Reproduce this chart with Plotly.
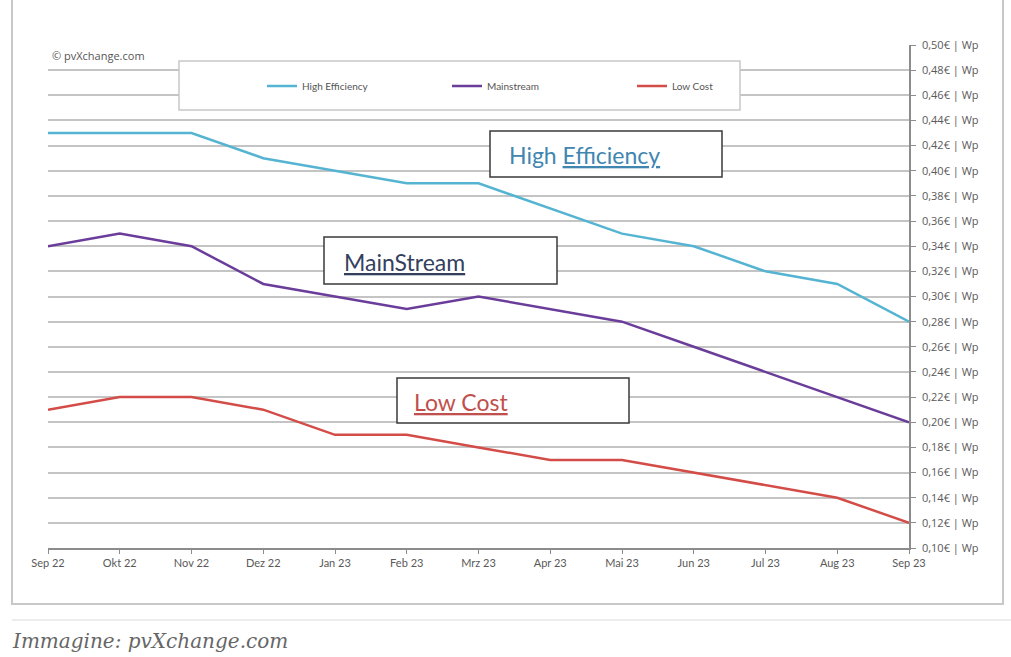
import plotly.graph_objects as go

months = ["Sep 22", "Okt 22", "Nov 22", "Dez 22", "Jan 23", "Feb 23", "Mrz 23",
          "Apr 23", "Mai 23", "Jun 23", "Jul 23", "Aug 23", "Sep 23"]
high_efficiency = [0.43, 0.43, 0.43, 0.41, 0.40, 0.39, 0.39, 0.37, 0.35, 0.34, 0.32, 0.31, 0.28]
mainstream = [0.34, 0.35, 0.34, 0.31, 0.30, 0.29, 0.30, 0.29, 0.28, 0.26, 0.24, 0.22, 0.20]
low_cost = [0.21, 0.22, 0.22, 0.21, 0.19, 0.19, 0.18, 0.17, 0.17, 0.16, 0.15, 0.14, 0.12]
y_ticks = [0.10, 0.12, 0.14, 0.16, 0.18, 0.20, 0.22, 0.24, 0.26, 0.28, 0.30,
           0.32, 0.34, 0.36, 0.38, 0.40, 0.42, 0.44, 0.46, 0.48, 0.50]
y_tick_text = [f"{v:.2f}".replace(".", ",") + "€ | Wp" for v in y_ticks]

W, H = 1011, 657
L, R, T, B = 48, 909, 45, 548

def px(x):
    return (x - L) / (R - L)

def py(y):
    return (B - y) / (B - T)

x_idx = list(range(len(months)))

fig = go.Figure()
series = [
    ("High Efficiency", high_efficiency, "#56b4d3"),
    ("Mainstream", mainstream, "#6b3d9a"),
    ("Low Cost", low_cost, "#d34c47"),
]
for name, vals, col in series:
    fig.add_trace(go.Scatter(x=x_idx, y=vals, mode="lines", name=name,
                             line=dict(color=col, width=2.5)))

shapes = []
# outer frame
shapes.append(dict(type="rect", xref="paper", yref="paper",
                   x0=px(12), x1=px(1003), y0=py(604), y1=py(-5),
                   line=dict(color="#c8c8c8", width=2), layer="below"))
shapes.append(dict(type="line", xref="paper", yref="paper",
                   x0=px(12), x1=px(1011), y0=py(620), y1=py(620),
                   line=dict(color="#ececec", width=2)))
# legend frame
shapes.append(dict(type="rect", xref="paper", yref="paper",
                   x0=px(179), x1=px(740), y0=py(110), y1=py(61),
                   line=dict(color="#c8c8c8", width=1.5), fillcolor="white", layer="above"))

# labelled boxes
boxes = [
    ((490, 131, 722, 177), 507, "High <u>Efficiency</u>", "#3f86b0"),
    ((324, 237, 557, 284), 342, "<u>MainStream</u>", "#34405e"),
    ((397, 378, 629, 423), 412, "<u>Low Cost</u>", "#c0504d"),
]
annotations = []
for (x0, y0, x1, y1), tx, text, col in boxes:
    shapes.append(dict(type="rect", xref="paper", yref="paper",
                       x0=px(x0), x1=px(x1), y0=py(y1), y1=py(y0),
                       line=dict(color="#3a3a3a", width=1.5), fillcolor="white", layer="above"))
    annotations.append(dict(xref="paper", yref="paper", x=px(tx), y=py((y0 + y1) / 2 + 1),
                            xanchor="left", yanchor="middle", showarrow=False, text=text,
                            font=dict(family="Lato, Open Sans, sans-serif", size=23, color=col)))

annotations.append(dict(xref="paper", yref="paper", x=px(50), y=py(55),
                        xanchor="left", yanchor="middle", showarrow=False,
                        text="© pvXchange.com",
                        font=dict(family="Open Sans, sans-serif", size=11, color="#555555")))
annotations.append(dict(xref="paper", yref="paper", x=px(10), y=py(641),
                        xanchor="left", yanchor="middle", showarrow=False,
                        text="<i>Immagine: pvXchange.com</i>",
                        font=dict(family="DejaVu Serif, serif", size=20, color="#666666")))

fig.update_layout(
    width=W, height=H,
    margin=dict(l=L, r=W - R, t=T, b=H - B),
    paper_bgcolor="white", plot_bgcolor="white",
    showlegend=True,
    legend=dict(orientation="h", x=px(262), y=py(86), xanchor="left", yanchor="middle",
                bgcolor="rgba(0,0,0,0)", font=dict(family="Lato, sans-serif", size=10, color="#555555"),
                entrywidth=140, entrywidthmode="pixels", itemwidth=30),
    shapes=shapes,
    annotations=annotations,
    xaxis=dict(range=[0, 12], tickmode="array", tickvals=x_idx, ticktext=months,
               showgrid=False, zeroline=False, showline=True, linecolor="#8c8c8c", linewidth=1.5,
               ticks="outside", ticklen=4, tickcolor="#8c8c8c",
               tickfont=dict(family="Lato, sans-serif", size=11, color="#595959")),
    yaxis=dict(range=[0.10, 0.50], side="right", tickmode="array", tickvals=y_ticks,
               ticktext=y_tick_text, showgrid=True, gridcolor="#c4c4c4", gridwidth=1.5,
               zeroline=False, showline=True, linecolor="#8c8c8c", linewidth=1.5,
               ticks="outside", ticklen=5, tickcolor="#8c8c8c", ticklabelstandoff=4,
               tickfont=dict(family="Open Sans, sans-serif", size=11, color="#595959")),
)

fig.write_html("out.html")
